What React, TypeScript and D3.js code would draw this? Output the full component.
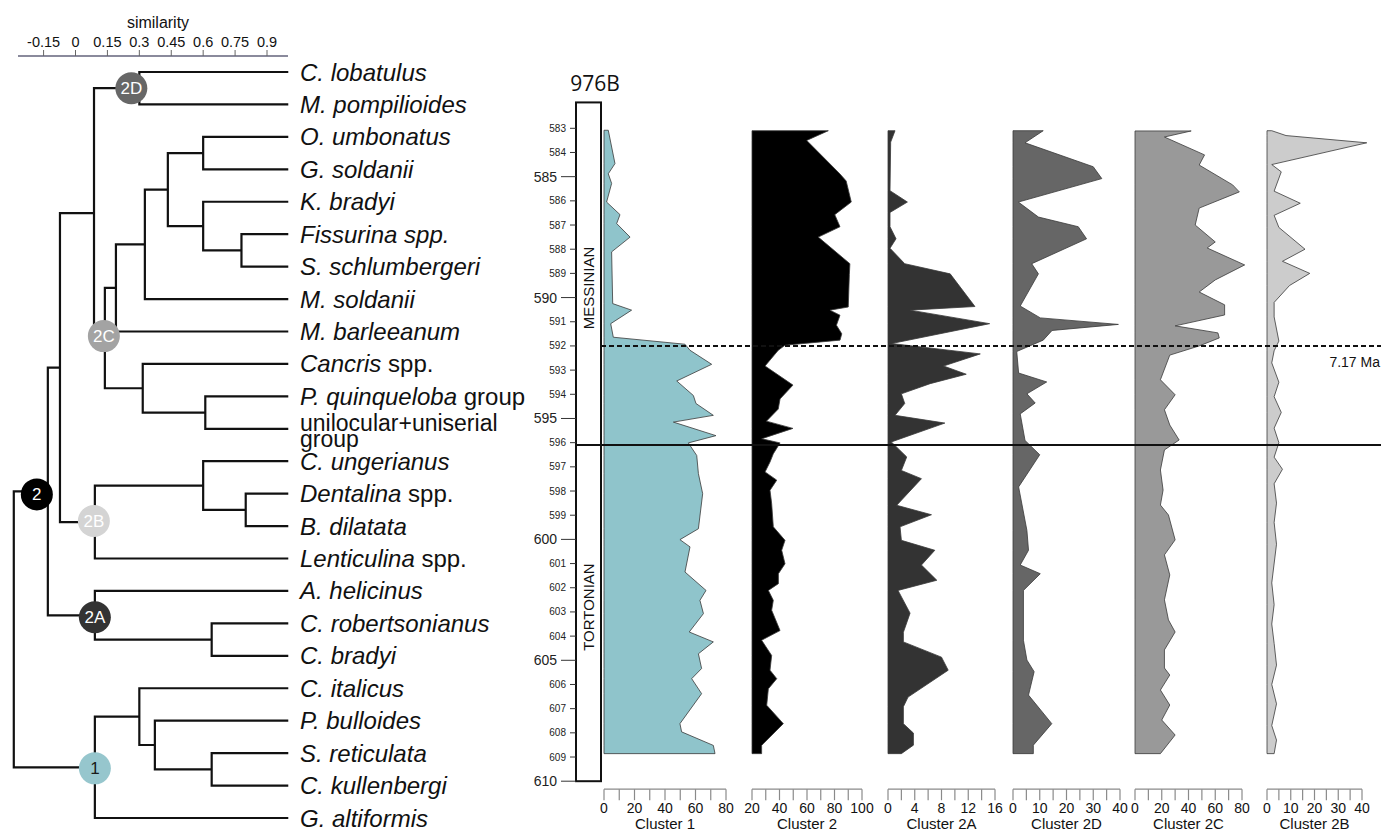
import React from "react";
import * as d3 from "d3";

// ---------------- Dendrogram data ----------------
const simTicks = [-0.15, 0, 0.15, 0.3, 0.45, 0.6, 0.75, 0.9];
const leafSimilarity = 1.0;

const leafIds = [
  "lob", "pom", "umb", "gsol", "kbr", "fis", "sch", "msol", "bar", "can", "pq", "uni",
  "ung", "den", "dil", "len", "hel", "rob", "cbr", "ita", "bul", "ret", "kul", "alt",
];

type Seg = [string, boolean];
const leafLabels: Seg[][] = [
  [["C. lobatulus", true]],
  [["M. pompilioides", true]],
  [["O. umbonatus", true]],
  [["G. soldanii", true]],
  [["K. bradyi", true]],
  [["Fissurina spp.", true]],
  [["S. schlumbergeri", true]],
  [["M. soldanii", true]],
  [["M. barleeanum", true]],
  [["Cancris", true], [" spp.", false]],
  [["P. quinqueloba", true], [" group", false]],
  [["unilocular+uniserial", false]],
  [["C. ungerianus", true]],
  [["Dentalina", true], [" spp.", false]],
  [["B. dilatata", true]],
  [["Lenticulina", true], [" spp.", false]],
  [["A. helicinus", true]],
  [["C. robertsonianus", true]],
  [["C. bradyi", true]],
  [["C. italicus", true]],
  [["P. bulloides", true]],
  [["S. reticulata", true]],
  [["C. kullenbergi", true]],
  [["G. altiformis", true]],
];
const secondLineLabel = "group"; // second line of the "unilocular+uniserial" leaf

const mergeIds = ["2D", "D", "F", "E", "C", "B", "A", "H", "G", "2C", "DC", "J", "I", "2B", "DCB", "K", "2A", "2", "N", "M", "L", "1", "root"];
const mergeSims = [0.30, 0.60, 0.78, 0.60, 0.434, 0.326, 0.19, 0.61, 0.316, 0.138, 0.087, 0.80, 0.60, 0.091, -0.073, 0.64, 0.091, -0.13, 0.64, 0.373, 0.30, 0.091, -0.29];
const mergeKids: [string, string][] = [
  ["lob", "pom"], ["umb", "gsol"], ["fis", "sch"], ["kbr", "F"], ["D", "E"], ["C", "msol"],
  ["B", "bar"], ["pq", "uni"], ["can", "H"], ["A", "G"], ["2D", "2C"], ["den", "dil"],
  ["ung", "J"], ["I", "len"], ["DC", "2B"], ["rob", "cbr"], ["hel", "K"], ["DCB", "2A"],
  ["ret", "kul"], ["bul", "N"], ["ita", "M"], ["L", "alt"], ["2", "1"],
];

const badgeIds = ["2D", "2C", "2B", "2A", "2", "1"];
const badgeFills = ["#676767", "#a3a3a3", "#d4d4d4", "#333333", "#000000", "#96c6cd"];
const badgeTextColors = ["#ffffff", "#ffffff", "#ffffff", "#ffffff", "#ffffff", "#1a1a1a"];

// ---------------- Stratigraphic data (depth in m, value in %) ----------------
const depthTicks = d3.range(583, 611);

const c1Depth = [583.08, 584.46, 584.88, 585.28, 586.05, 586.57, 586.94, 587.5, 588.11, 590.25, 590.52, 591.08, 591.64, 591.93, 592.18, 592.76, 593.45, 594.05, 594.38, 594.87, 595.15, 595.71, 596.01, 596.53, 597.28, 598.11, 599.56, 600.01, 600.31, 601.35, 602.11, 602.52, 603.07, 603.83, 604.24, 604.73, 605.34, 605.76, 606.38, 607.62, 607.96, 608.52, 608.86];
const c1Value = [2.8, 7.2, 2.8, 5.0, 1.7, 10.5, 8.3, 17.1, 5.0, 5.7, 18.1, 4.4, 6.1, 53.1, 56.4, 70.6, 47.7, 58.6, 60.3, 71.7, 45.5, 73.4, 55.3, 60.8, 61.9, 64.7, 61.9, 49.8, 56.4, 53.1, 66.9, 62.9, 65.2, 55.9, 71.7, 61.9, 64.0, 57.5, 64.0, 49.8, 50.9, 71.7, 72.8];

const c2Depth = [583.1, 583.5, 584.89, 585.18, 586.05, 586.57, 587.07, 587.5, 588.6, 589.05, 590.39, 590.52, 590.73, 591.14, 591.5, 591.76, 591.97, 592.18, 592.83, 593.62, 594.19, 594.61, 595.11, 595.41, 595.84, 596.01, 596.46, 596.8, 597.21, 597.55, 597.97, 598.52, 599.48, 600.04, 600.45, 601.01, 601.42, 601.83, 602.11, 602.52, 602.93, 603.77, 604.17, 604.8, 605.41, 605.76, 606.18, 606.86, 607.62, 608.52, 608.86];
const c2Value = [75.5, 59.8, 84, 88.5, 92.2, 80.2, 84, 68.2, 91.2, 90.8, 90, 76.7, 84, 81.4, 85.3, 84, 44, 39.1, 29.5, 49.8, 40.4, 39.1, 30.5, 49.8, 27, 40.4, 35.5, 33.1, 29.5, 38, 33.1, 34.3, 35.5, 44, 41.6, 44, 39.2, 39.2, 31.9, 35.5, 34.3, 40.4, 27, 34.3, 33.1, 38, 31.9, 30.7, 42.8, 27, 27];

const c2aDepth = [583.1, 583.57, 585.58, 586.05, 586.48, 587.07, 587.57, 587.96, 588.6, 589.02, 590.37, 590.52, 591.08, 591.9, 592.33, 592.83, 593.17, 593.56, 593.98, 594.38, 594.87, 595.19, 595.97, 596.59, 597.15, 597.49, 598.59, 598.98, 599.48, 600.04, 600.45, 601.06, 601.69, 602.11, 603.05, 603.84, 604.24, 604.87, 605.41, 606.52, 606.92, 607.62, 608.01, 608.51, 608.86];
const c2aValue = [1.05, 0.4, 0.3, 2.9, 0.3, 0.3, 1.2, 0.3, 2.5, 9.3, 13, 3.3, 15.2, 0.55, 13.8, 8.3, 11.7, 6.3, 2.0, 2.5, 1.05, 8.5, 0.5, 2.8, 2.0, 5.0, 1.3, 6.5, 1.8, 2.0, 7.0, 5.0, 7.3, 1.5, 3.3, 2.3, 2.3, 8.0, 9.0, 3.0, 2.3, 2.3, 3.8, 3.8, 2.0];

const c2dDepth = [583.1, 583.6, 584.59, 585.08, 586.05, 586.67, 587.07, 587.57, 588.6, 589.02, 590.35, 590.84, 591.11, 591.36, 591.76, 592.23, 593.12, 593.49, 593.98, 594.36, 594.81, 595.91, 596.5, 597.83, 599.63, 600.45, 601.06, 601.42, 602.11, 604.17, 604.99, 605.47, 606.44, 607.62, 608.51, 608.86];
const c2dValue = [11.3, 4.5, 30, 33.2, 2.0, 9.5, 24.4, 27.5, 7, 9.5, 2.7, 10.2, 39.4, 14.6, 11.3, 1.4, 2.1, 12.6, 5.2, 8.3, 2.7, 4.5, 10, 2.1, 5.2, 5.8, 2.7, 10.2, 3.9, 3.9, 5.2, 7.9, 5.8, 14.5, 7.6, 7.6];

const c2cDepth = [583.11, 583.36, 584.1, 584.52, 585.34, 585.63, 586.3, 587.0, 587.7, 587.95, 588.65, 589.27, 589.77, 590.3, 590.72, 591.17, 591.46, 591.67, 592.0, 592.38, 593.4, 594.02, 594.64, 595.27, 595.89, 596.3, 597.13, 597.96, 598.58, 598.99, 600.02, 600.64, 601.47, 602.5, 603.33, 603.83, 604.57, 605.32, 605.61, 606.23, 606.85, 607.47, 608.09, 608.86];
const c2cValue = [42, 22, 52, 48, 73, 78, 48, 45, 60, 54, 82, 60, 48, 67, 67, 30, 62, 63, 48, 26, 19, 30, 22, 26, 33, 22, 19, 21, 19, 25, 30, 22, 26, 22, 25, 30, 22, 22, 26, 19, 26, 20, 30, 19];

const c2bDepth = [583.1, 583.3, 583.6, 584.5, 584.8, 585.6, 586.1, 586.6, 587.1, 588.0, 588.5, 589.0, 589.5, 590.2, 590.8, 591.8, 592.2, 592.7, 593.5, 594.1, 594.75, 595.4, 596.0, 596.6, 597.1, 597.7, 598.5, 599.3, 600.2, 601.8, 602.7, 603.5, 604.3, 605.2, 606.0, 606.8, 607.7, 608.3, 608.86];
const c2bValue = [2, 8, 42, 2, 6, 3, 14, 3, 5, 16, 6.5, 18, 9.5, 3, 3, 5, 3, 2, 5, 3, 6, 3, 5, 3, 6.5, 3, 4, 3, 4, 2, 3, 2, 3, 4, 2, 4, 2, 4, 3];

const panelNames = ["Cluster 1", "Cluster 2", "Cluster 2A", "Cluster 2D", "Cluster 2C", "Cluster 2B"];
const panelDomains: [number, number][] = [[0, 80], [20, 100], [0, 16], [0, 40], [0, 80], [0, 40]];
const panelTickSteps = [10, 10, 2, 5, 10, 5];
const panelLabelSteps = [20, 20, 4, 10, 20, 10];
const panelColors = ["#8fc4cb", "#000000", "#333333", "#666666", "#999999", "#cccccc"];
const panelDepths = [c1Depth, c2Depth, c2aDepth, c2dDepth, c2cDepth, c2bDepth];
const panelValues = [c1Value, c2Value, c2aValue, c2dValue, c2cValue, c2bValue];

const stageNames = ["MESSINIAN", "TORTONIAN"];
const stageMidDepths = [589.6, 602.8];
const boundaryDepthDashed = 592;
const boundaryDepthSolid = 596.1;
const ageLabel = "7.17 Ma";
const siteLabel = "976B";

// ---------------- Layout ----------------
const W = 1381;
const H = 832;
const panelRanges: [number, number][] = [[604, 726], [752, 862], [888, 995], [1013, 1120], [1135, 1242], [1267, 1362]];
const SANS = "'Liberation Sans', Arial, Helvetica, sans-serif";

export default function App() {
  // dendrogram
  const sx = d3.scaleLinear().domain([0, 0.9]).range([75.5, 267]);
  const ly = d3.scalePoint<string>().domain(leafIds).range([72, 818]);
  const pos = new Map<string, { x: number; y: number }>();
  leafIds.forEach((id) => pos.set(id, { x: sx(leafSimilarity), y: ly(id)! }));
  const dPaths: string[] = [];
  mergeIds.forEach((id, i) => {
    const a = pos.get(mergeKids[i][0])!;
    const b = pos.get(mergeKids[i][1])!;
    const x = sx(mergeSims[i]);
    const y = (a.y + b.y) / 2;
    pos.set(id, { x, y });
    dPaths.push(`M${a.x},${a.y}H${x}V${b.y}H${b.x}`);
  });
  const badgeDx: Record<string, number> = { "2D": -8, "2C": -1, "2B": -1, "2A": 0, "2": -11, "1": 0 };
  const badgeDy: Record<string, number> = { "2D": 0, "2C": -2, "2B": -1, "2A": 2, "2": 3, "1": 1 };

  // stratigraphy
  const yDepth = d3.scaleLinear().domain([583, 610]).range([128.3, 781.2]);
  const axisY = yDepth(610) + 8;
  const rectX = 576;
  const rectW = 25;

  return (
    <svg width={W} height={H} style={{ position: "absolute", left: 0, top: 0, background: "#fff" }} fontFamily={SANS}>
      <rect x={0} y={0} width={W} height={H} fill="#fff" />
      {/* similarity axis */}
      <text x={158} y={28} fontSize={16} textAnchor="middle" fill="#111">similarity</text>
      <line x1={18} x2={288} y1={56} y2={56} stroke="#8a8a9c" strokeWidth={2.2} />
      {simTicks.map((t) => (
        <g key={t}>
          <line x1={sx(t)} x2={sx(t)} y1={50} y2={56} stroke="#666" strokeWidth={1} />
          <text x={sx(t)} y={47} fontSize={14.5} textAnchor="middle" fill="#111">{t === 0 ? "0" : String(t)}</text>
        </g>
      ))}
      {/* dendrogram branches */}
      {dPaths.map((d, i) => (
        <path key={i} d={d} fill="none" stroke="#111" strokeWidth={2.2} strokeLinejoin="miter" />
      ))}
      {/* leaf labels */}
      {leafIds.map((id, i) => {
        const y = ly(id)!;
        const isUni = id === "uni";
        return (
          <g key={id}>
            <text x={300} y={isUni ? y + 2 : y + 8.5} fontSize={isUni ? 23 : 24} fill="#111">
              {leafLabels[i].map(([s, it], k) => (
                <tspan key={k} fontStyle={it ? "italic" : "normal"}>{s}</tspan>
              ))}
            </text>
            {isUni && (
              <text x={300} y={y + 18} fontSize={23} fill="#111">{secondLineLabel}</text>
            )}
          </g>
        );
      })}
      {/* cluster badges */}
      {badgeIds.map((id, i) => {
        const p = pos.get(id)!;
        const cx = p.x + badgeDx[id];
        const cy = p.y + badgeDy[id];
        return (
          <g key={id}>
            <circle cx={cx} cy={cy} r={16} fill={badgeFills[i]} />
            <text x={cx} y={cy + 6} fontSize={17} textAnchor="middle" fill={badgeTextColors[i]}>{id}</text>
          </g>
        );
      })}

      {/* site label */}
      <text x={595} y={91} fontSize={21} textAnchor="middle" fontFamily="'Open Sans', 'DejaVu Sans', sans-serif" fill="#111">{siteLabel}</text>

      {/* areas */}
      {panelNames.map((name, i) => {
        const xs = d3.scaleLinear().domain(panelDomains[i]).range(panelRanges[i]);
        const pts = panelDepths[i].map((d, k) => [d, panelValues[i][k]] as [number, number]);
        const area = d3
          .area<[number, number]>()
          .x0(xs(panelDomains[i][0]))
          .x1((p) => xs(p[1]))
          .y((p) => yDepth(p[0]));
        return (
          <path key={name} d={area(pts)!} fill={panelColors[i]} stroke="#3a3a3a" strokeWidth={0.8} />
        );
      })}

      {/* stage column */}
      <rect x={rectX} y={yDepth(581.93)} width={rectW} height={yDepth(610) - yDepth(581.93)} fill="#fff" stroke="#111" strokeWidth={2} />
      {stageNames.map((s, i) => (
        <text key={s} transform={`translate(${rectX + rectW / 2 + 5.5},${yDepth(stageMidDepths[i])}) rotate(-90)`} fontSize={15} textAnchor="middle" fill="#111">{s}</text>
      ))}
      {/* depth axis */}
      {depthTicks.map((d) => {
        const major = d % 5 === 0;
        const y = yDepth(d);
        return (
          <g key={d}>
            <line x1={major ? 561 : 570} x2={rectX} y1={y} y2={y} stroke="#333" strokeWidth={1} />
            <text x={major ? 557 : 566} y={y + (major ? 5 : 3.5)} fontSize={major ? 14 : 10} textAnchor="end" fill="#222">{d}</text>
          </g>
        );
      })}

      {/* boundaries */}
      <line x1={rectX + rectW} x2={W} y1={yDepth(boundaryDepthDashed)} y2={yDepth(boundaryDepthDashed)} stroke="#111" strokeWidth={2} strokeDasharray="5,3" />
      <line x1={rectX} x2={W} y1={yDepth(boundaryDepthSolid)} y2={yDepth(boundaryDepthSolid)} stroke="#111" strokeWidth={2} />
      <text x={W - 1} y={yDepth(boundaryDepthDashed) + 21} fontSize={14} textAnchor="end" fill="#111">{ageLabel}</text>

      {/* bottom axes */}
      {panelNames.map((name, i) => {
        const xs = d3.scaleLinear().domain(panelDomains[i]).range(panelRanges[i]);
        const [lo, hi] = panelDomains[i];
        const ticks = d3.range(lo, hi + 0.001, panelTickSteps[i]);
        const labels = d3.range(lo, hi + 0.001, panelLabelSteps[i]);
        return (
          <g key={name}>
            <line x1={xs(lo)} x2={xs(hi)} y1={axisY} y2={axisY} stroke="#8a8a8a" strokeWidth={1.2} />
            {ticks.map((t) => (
              <line key={t} x1={xs(t)} x2={xs(t)} y1={axisY} y2={axisY + 11} stroke="#8a8a8a" strokeWidth={1.2} />
            ))}
            {labels.map((t) => (
              <text key={t} x={xs(t)} y={axisY + 24} fontSize={14} textAnchor="middle" fill="#111">{t}</text>
            ))}
            <text x={(xs(lo) + xs(hi)) / 2} y={axisY + 40} fontSize={15} textAnchor="middle" fill="#111">{name}</text>
          </g>
        );
      })}
    </svg>
  );
}
